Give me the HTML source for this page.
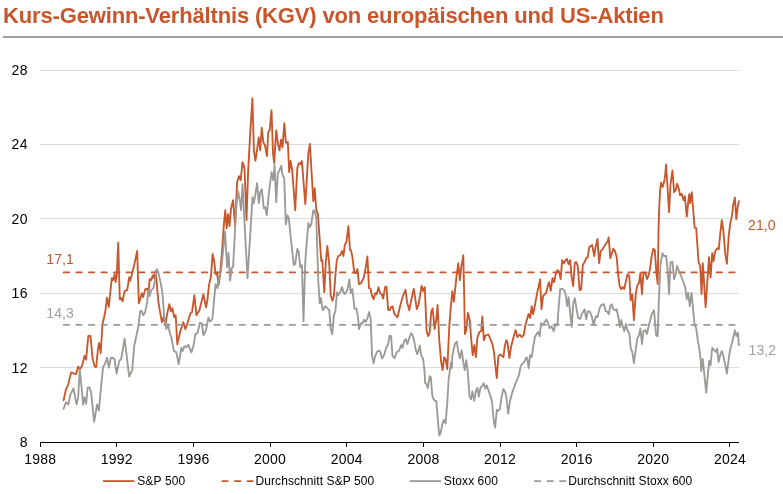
<!DOCTYPE html>
<html lang="de"><head><meta charset="utf-8"><title>Kurs-Gewinn-Verhältnis (KGV)</title>
<style>
html,body{margin:0;padding:0;background:#fff;}
body{width:783px;height:494px;overflow:hidden;position:relative;font-family:"Liberation Sans",Arial,sans-serif;}
h1{position:absolute;left:3px;top:2.7px;margin:0;font-size:22px;line-height:26px;font-weight:bold;color:#c8552b;white-space:nowrap;letter-spacing:-0.155px;}
.rule{position:absolute;left:3px;top:36px;width:780px;height:2px;background:#a0a0a0;}
svg{position:absolute;left:0;top:0;}
svg text{font-family:"Liberation Sans",Arial,sans-serif;}
</style></head><body>
<h1>Kurs-Gewinn-Verhältnis (KGV) von europäischen und US-Aktien</h1>
<div class="rule"></div>
<svg width="783" height="494" viewBox="0 0 783 494">

<g stroke="#dcdcdc" stroke-width="1" shape-rendering="crispEdges">
<line x1="40" y1="367.5" x2="739" y2="367.5"/>
<line x1="40" y1="293.5" x2="739" y2="293.5"/>
<line x1="40" y1="218.5" x2="739" y2="218.5"/>
<line x1="40" y1="144.5" x2="739" y2="144.5"/>
<line x1="40" y1="70.5" x2="739" y2="70.5"/>
</g>
<g font-size="14" fill="#000" text-anchor="end" letter-spacing="0.5">
<text x="28" y="447.0">8</text>
<text x="28" y="372.6">12</text>
<text x="28" y="298.2">16</text>
<text x="28" y="223.8">20</text>
<text x="28" y="149.4">24</text>
<text x="28" y="75.0">28</text>
</g>
<path d="M63.6,400.2 L66.0,389.1 L68.0,385.1 L71.1,372.5 L74.1,373.7 L76.1,374.1 L78.1,366.7 L80.1,369.1 L82.1,365.7 L84.5,355.6 L86.1,359.7 L88.3,336.0 L90.5,336.0 L92.5,358.0 L94.5,366.1 L96.1,367.1 L98.1,348.0 L99.1,343.0 L100.7,353.0 L102.5,324.2 L104.1,317.2 L105.5,310.2 L107.1,297.7 L108.8,306.8 L110.2,293.5 L111.8,278.1 L113.2,280.1 L114.6,274.1 L115.6,282.1 L116.8,275.1 L118.2,242.6 L119.8,299.2 L121.2,298.1 L122.6,301.2 L124.6,291.1 L127.2,290.1 L129.2,277.1 L130.2,280.7 L132.2,273.1 L134.2,265.1 L137.2,251.0 L138.8,303.2 L140.2,299.2 L141.8,293.1 L143.2,297.1 L145.2,289.1 L147.3,288.7 L148.3,295.1 L149.7,279.1 L151.3,280.1 L152.9,275.1 L154.3,278.1 L155.7,271.1 L158.3,301.2 L159.9,311.2 L161.9,322.2 L163.9,316.2 L165.3,325.2 L167.3,313.2 L169.3,304.2 L170.9,311.2 L172.3,308.2 L174.3,317.2 L175.7,315.2 L177.3,344.4 L180.3,331.2 L183.3,322.2 L185.4,329.2 L187.4,323.2 L190.4,313.2 L192.0,312.2 L194.4,295.1 L196.4,315.2 L199.4,310.2 L203.4,294.1 L206.0,307.2 L207.4,300.2 L209.0,285.1 L211.0,276.1 L212.6,254.0 L214.0,260.0 L215.6,274.1 L217.0,272.7 L218.6,285.1 L220.1,274.1 L221.7,255.0 L224.1,222.2 L225.3,210.2 L226.7,228.2 L228.1,214.2 L229.5,226.2 L231.1,208.2 L233.1,200.2 L235.1,226.2 L237.1,182.1 L239.1,176.1 L240.7,180.1 L242.5,162.1 L244.5,168.1 L246.5,220.2 L248.1,172.1 L250.1,135.2 L252.4,98.3 L253.9,150.3 L255.4,160.8 L257.4,147.3 L258.7,137.5 L260.2,150.3 L261.7,127.7 L263.4,142.7 L264.9,145.0 L267.0,156.0 L268.2,132.2 L269.7,129.9 L271.5,110.3 L273.0,153.3 L274.2,163.1 L276.2,130.4 L278.0,144.2 L279.5,150.3 L281.0,139.7 L282.5,147.3 L284.3,123.2 L285.9,142.7 L287.8,142.0 L289.2,172.1 L290.6,161.0 L292.2,170.1 L295.2,210.2 L297.3,168.1 L298.9,163.1 L300.3,164.1 L301.9,161.0 L305.3,204.2 L308.3,154.0 L309.9,144.0 L313.3,201.2 L314.7,188.1 L316.3,210.2 L317.9,214.2 L321.3,261.1 L322.3,260.0 L324.3,292.1 L325.7,263.1 L327.3,246.0 L329.3,265.1 L330.7,295.1 L332.3,300.8 L333.9,296.1 L335.4,275.1 L336.8,260.0 L338.4,256.0 L340.4,255.0 L342.0,251.0 L343.4,256.0 L344.8,245.0 L346.4,242.0 L348.4,226.2 L350.0,250.0 L351.0,250.1 L352.4,257.1 L354.4,273.1 L356.0,273.1 L357.4,269.1 L359.0,284.2 L361.0,283.2 L363.6,278.2 L365.6,268.1 L367.4,256.5 L369.0,288.2 L370.5,288.6 L372.1,296.2 L373.7,299.2 L375.1,293.2 L376.7,294.2 L378.5,287.2 L380.1,293.2 L381.7,294.2 L383.1,298.6 L385.1,287.2 L386.5,286.6 L388.1,309.8 L389.7,310.2 L391.1,307.2 L392.5,306.2 L394.5,314.2 L397.5,317.3 L400.1,306.2 L402.5,297.2 L405.5,289.8 L407.1,302.2 L409.2,310.2 L411.2,300.2 L413.8,288.8 L416.8,309.2 L418.6,304.2 L421.6,285.8 L423.2,291.2 L424.8,287.2 L426.6,331.1 L428.2,336.1 L429.6,333.1 L431.2,312.0 L432.6,308.4 L434.6,329.1 L436.2,320.1 L437.6,305.0 L439.2,340.1 L441.2,362.2 L442.6,370.2 L444.2,357.1 L445.6,359.2 L447.3,369.2 L449.3,326.1 L450.9,306.0 L452.3,291.2 L453.9,301.8 L456.3,278.2 L458.3,263.1 L459.9,280.2 L461.3,267.1 L463.3,255.1 L464.3,300.2 L464.9,334.1 L466.3,330.1 L467.9,313.0 L469.7,320.1 L471.3,340.1 L472.7,355.1 L474.3,345.1 L475.9,357.1 L477.3,338.1 L479.3,332.1 L481.3,331.1 L482.3,316.4 L483.9,340.1 L485.4,335.7 L488.4,334.5 L490.4,339.1 L492.4,344.1 L494.0,352.1 L495.4,366.2 L496.8,378.2 L498.4,356.1 L500.4,354.5 L502.0,356.1 L503.4,357.1 L504.8,346.1 L506.4,340.1 L507.6,343.1 L509.4,358.1 L511.0,347.1 L513.0,339.1 L515.6,330.1 L517.4,337.1 L519.7,334.5 L521.7,337.1 L523.7,335.1 L525.7,324.0 L527.1,319.0 L528.5,314.0 L530.1,318.0 L531.7,306.2 L533.1,314.2 L535.1,304.2 L537.1,293.2 L538.5,287.2 L540.1,279.5 L541.5,309.2 L543.1,296.2 L544.5,294.2 L546.1,293.2 L547.7,286.2 L549.1,282.1 L550.7,290.8 L552.5,278.1 L554.1,282.1 L555.7,274.1 L557.5,270.1 L559.2,272.1 L560.6,279.1 L562.2,260.1 L563.8,263.1 L565.2,261.1 L566.8,258.7 L568.6,264.1 L570.2,260.1 L571.6,277.1 L573.2,286.2 L574.8,263.1 L576.2,262.1 L577.8,266.1 L579.6,290.2 L581.2,289.2 L582.8,265.1 L584.6,262.1 L586.2,258.1 L587.8,257.1 L589.2,247.1 L590.8,246.1 L592.2,245.1 L594.2,256.1 L595.6,247.1 L597.5,239.0 L599.1,263.1 L600.7,251.1 L602.3,249.5 L603.9,247.1 L605.7,244.0 L607.3,242.0 L608.7,237.4 L610.3,258.1 L611.7,254.1 L613.3,248.7 L614.9,251.1 L616.7,257.1 L618.3,276.1 L619.7,286.2 L621.3,289.2 L622.9,287.2 L624.3,288.8 L625.9,281.1 L627.7,274.1 L629.3,276.1 L630.7,300.2 L632.3,294.2 L633.9,320.2 L635.8,293.2 L637.4,285.2 L639.0,283.2 L640.4,273.1 L642.0,294.2 L643.4,273.1 L645.4,273.1 L647.0,279.1 L648.4,276.1 L650.0,269.1 L651.8,255.1 L653.4,248.7 L654.8,250.1 L656.5,274.2 L657.7,284.0 L658.5,232.1 L659.1,210.2 L660.1,190.2 L661.1,182.5 L662.5,187.1 L664.1,182.1 L665.1,175.1 L666.1,164.5 L667.7,190.2 L669.1,212.2 L670.5,184.1 L672.5,170.5 L674.1,192.2 L675.7,190.2 L677.1,183.7 L678.7,188.2 L680.1,195.2 L681.7,193.8 L683.5,200.2 L684.8,196.2 L686.8,216.6 L688.2,202.2 L689.2,194.2 L690.2,203.2 L691.8,192.2 L693.2,210.2 L694.6,227.3 L696.2,228.1 L697.6,248.2 L698.6,262.2 L700.2,266.2 L701.6,294.0 L702.8,263.2 L705.6,307.1 L709.0,257.2 L710.6,277.5 L711.2,268.2 L712.2,253.2 L713.6,261.2 L715.2,251.2 L717.2,248.2 L718.8,249.2 L720.2,234.1 L721.8,220.1 L723.3,230.1 L725.3,254.2 L726.9,263.8 L728.7,236.1 L730.3,223.1 L731.9,216.1 L733.3,204.1 L734.9,197.6 L736.3,219.1 L737.7,207.1 L738.9,201.1" fill="none" stroke="#c8572d" stroke-width="1.85" stroke-linejoin="round" stroke-linecap="round"/>
<line x1="63.7" y1="272.4" x2="736" y2="272.4" stroke="#c8572d" stroke-width="1.8" stroke-linecap="round" stroke-dasharray="5.5 7.055"/>
<path d="M63.6,408.8 L66.0,402.2 L68.4,404.6 L70.1,395.1 L73.5,388.5 L76.5,404.2 L78.1,398.2 L79.7,369.7 L81.3,384.1 L83.1,404.6 L84.5,397.1 L86.1,403.8 L87.7,387.7 L89.5,387.3 L91.1,392.1 L94.1,421.8 L97.1,404.6 L98.9,410.6 L101.1,386.1 L103.1,367.1 L105.1,363.7 L107.1,357.6 L108.8,367.7 L110.8,358.0 L112.6,357.6 L114.6,359.5 L116.6,373.7 L119.2,361.1 L121.2,359.0 L124.6,338.7 L129.2,376.7 L132.2,370.1 L134.2,346.0 L138.2,327.2 L140.2,311.2 L141.6,310.8 L143.2,315.2 L145.2,312.2 L147.3,301.2 L148.3,290.1 L149.7,296.1 L151.3,290.1 L153.3,288.1 L154.7,282.1 L156.7,269.1 L158.3,272.1 L160.3,281.1 L162.3,292.1 L164.3,317.2 L166.3,329.2 L167.9,324.2 L169.9,333.2 L171.3,337.3 L173.9,351.0 L176.3,352.4 L178.7,364.1 L181.3,348.0 L182.7,351.0 L184.3,346.4 L186.4,347.0 L188.4,345.0 L191.4,352.4 L193.4,346.0 L195.4,334.2 L197.4,333.2 L200.0,322.8 L201.8,323.2 L203.4,335.2 L206.0,330.2 L208.4,317.6 L210.0,321.6 L212.4,319.2 L214.0,301.2 L215.6,284.1 L217.6,288.1 L219.0,277.1 L221.1,271.1 L222.5,257.0 L225.1,231.8 L227.1,267.1 L228.5,253.0 L230.1,280.7 L231.7,268.1 L233.1,267.1 L236.1,208.2 L238.1,191.1 L240.1,202.2 L241.1,210.2 L242.5,184.1 L244.5,222.2 L247.5,278.1 L250.5,230.2 L252.5,197.1 L253.7,203.2 L255.1,196.1 L257.1,183.1 L258.8,203.2 L260.2,192.1 L261.8,189.1 L263.8,208.2 L265.2,207.2 L266.8,215.2 L269.2,190.1 L271.6,172.1 L273.2,180.1 L274.6,165.1 L276.2,202.2 L277.8,173.1 L279.2,171.1 L281.2,165.7 L282.6,175.1 L284.2,178.1 L285.8,224.2 L287.6,215.2 L288.8,218.2 L290.6,236.2 L293.8,265.1 L295.2,264.1 L297.3,249.0 L298.7,252.0 L300.3,267.1 L301.9,265.1 L303.5,321.2 L305.3,261.1 L308.3,223.2 L309.9,227.2 L311.3,224.2 L313.3,210.2 L314.7,211.2 L316.3,218.2 L318.3,281.1 L319.7,303.2 L320.9,298.1 L322.7,310.2 L325.3,306.2 L328.3,309.2 L329.3,310.2 L330.7,329.2 L332.3,334.2 L333.9,315.2 L335.4,311.2 L337.0,292.1 L338.4,295.1 L340.0,292.7 L342.0,287.1 L343.4,292.1 L344.8,294.1 L347.4,290.1 L349.4,279.5 L350.8,293.1 L352.4,289.1 L354.4,308.2 L355.0,309.0 L356.4,308.4 L358.0,317.0 L359.0,329.1 L361.0,323.1 L362.4,323.7 L364.0,319.7 L365.6,322.1 L367.4,318.4 L369.0,312.0 L370.7,319.0 L372.1,356.1 L373.7,363.2 L375.1,356.1 L377.1,351.7 L379.1,350.5 L380.5,352.5 L382.1,358.6 L384.1,355.1 L386.1,348.1 L388.1,344.1 L389.7,335.7 L391.1,336.1 L392.5,356.1 L394.5,358.2 L396.5,352.5 L399.1,350.5 L401.1,345.1 L402.5,347.7 L404.1,341.1 L405.7,339.1 L407.5,344.1 L409.2,338.1 L411.2,333.1 L412.6,335.1 L414.2,341.1 L415.6,349.1 L417.2,354.1 L418.6,350.1 L419.8,345.7 L421.2,355.1 L423.2,359.2 L424.6,372.2 L425.2,383.2 L426.8,384.2 L427.8,388.2 L429.6,376.2 L430.8,377.2 L432.2,394.2 L433.1,398.4 L434.9,400.8 L436.3,400.8 L437.9,420.8 L439.3,435.5 L440.8,432.4 L442.4,423.5 L443.8,419.9 L445.6,423.5 L447.4,401.1 L448.6,379.7 L450.1,368.9 L451.0,362.7 L451.9,368.0 L452.3,356.1 L453.9,348.1 L455.3,343.1 L456.9,341.7 L458.3,352.1 L459.9,358.2 L461.7,350.1 L463.3,362.2 L464.7,370.2 L466.3,360.2 L467.9,373.2 L469.4,395.8 L471.0,399.3 L472.4,391.3 L474.2,400.8 L476.0,390.4 L477.4,387.7 L478.8,396.7 L480.5,387.7 L482.2,385.9 L483.7,383.2 L485.3,388.6 L486.7,385.4 L488.5,390.4 L490.3,395.8 L492.1,402.0 L493.5,419.0 L495.1,427.6 L496.9,409.7 L498.3,411.0 L499.8,409.2 L501.4,398.4 L503.2,389.1 L505.0,391.3 L506.4,397.5 L508.2,413.6 L510.0,401.1 L512.3,392.2 L515.3,384.1 L518.9,375.2 L520.7,366.3 L522.5,363.6 L524.6,361.8 L525.7,358.1 L527.1,357.7 L528.7,368.2 L530.1,355.1 L531.7,357.1 L533.5,345.1 L535.1,336.5 L536.5,334.1 L538.1,332.1 L539.7,336.1 L541.1,323.0 L542.5,325.0 L544.1,323.0 L546.5,319.6 L548.1,323.0 L549.7,328.0 L551.5,326.4 L553.7,331.1 L555.7,324.0 L557.5,325.0 L558.2,313.2 L560.2,289.2 L562.2,288.8 L564.2,290.2 L565.6,294.2 L567.2,306.2 L568.6,297.2 L570.2,313.2 L571.8,327.0 L573.2,303.2 L574.8,298.2 L576.6,309.2 L578.2,318.2 L580.2,318.8 L582.2,313.2 L584.6,309.2 L586.2,319.2 L587.8,311.2 L589.8,311.6 L591.8,316.2 L593.6,325.0 L595.8,316.2 L597.3,317.2 L599.3,309.2 L601.3,304.8 L603.9,304.2 L605.7,311.2 L607.3,311.6 L608.7,314.2 L610.3,306.2 L611.7,304.2 L613.3,309.2 L615.3,310.2 L616.7,309.2 L618.3,317.2 L619.9,327.0 L621.3,320.0 L622.7,326.0 L624.3,331.1 L625.9,324.0 L627.7,331.1 L629.3,333.1 L630.7,348.1 L632.3,352.1 L633.9,363.1 L635.8,349.1 L637.4,338.1 L639.0,335.1 L640.4,328.4 L642.0,344.1 L643.4,331.1 L645.4,330.1 L647.0,334.1 L648.4,327.0 L650.0,321.0 L651.8,314.0 L654.0,310.2 L656.1,335.1 L657.7,336.1 L658.7,303.1 L660.5,264.2 L662.5,253.2 L664.1,256.2 L666.1,255.8 L667.5,268.2 L669.1,294.0 L670.5,262.2 L672.5,261.8 L674.1,279.1 L675.7,274.2 L677.1,265.8 L678.5,270.2 L680.5,274.2 L685.2,287.0 L686.8,299.1 L688.2,292.6 L689.8,306.1 L691.6,293.0 L693.2,311.1 L694.6,324.7 L696.2,328.1 L697.6,339.2 L699.2,348.2 L700.6,359.2 L701.2,371.2 L702.8,359.0 L704.2,373.1 L706.2,392.7 L707.8,375.1 L709.2,361.0 L710.6,365.1 L712.2,348.0 L714.2,350.0 L715.8,352.0 L717.2,348.6 L718.6,362.0 L720.2,355.0 L721.8,351.0 L723.3,356.0 L725.3,365.1 L726.9,373.5 L728.7,359.0 L730.3,349.0 L731.9,343.2 L733.3,337.2 L734.9,330.1 L736.3,336.1 L737.9,332.7 L738.9,345.2" fill="none" stroke="#9b9a97" stroke-width="1.85" stroke-linejoin="round" stroke-linecap="round"/>
<line x1="63.7" y1="324.8" x2="736" y2="324.8" stroke="#9b9a97" stroke-width="1.8" stroke-linecap="round" stroke-dasharray="5.5 7.055"/>
<g stroke="#000" stroke-width="1" shape-rendering="crispEdges">
<line x1="40" y1="442.5" x2="739" y2="442.5"/>
<line x1="40.5" y1="442" x2="40.5" y2="447"/>
<line x1="116.5" y1="442" x2="116.5" y2="447"/>
<line x1="193.5" y1="442" x2="193.5" y2="447"/>
<line x1="270.5" y1="442" x2="270.5" y2="447"/>
<line x1="346.5" y1="442" x2="346.5" y2="447"/>
<line x1="423.5" y1="442" x2="423.5" y2="447"/>
<line x1="500.5" y1="442" x2="500.5" y2="447"/>
<line x1="576.5" y1="442" x2="576.5" y2="447"/>
<line x1="653.5" y1="442" x2="653.5" y2="447"/>
<line x1="729.5" y1="442" x2="729.5" y2="447"/>
</g>
<g font-size="14" fill="#000" text-anchor="middle" letter-spacing="0.2">
<text x="40.2" y="464">1988</text>
<text x="116.8" y="464">1992</text>
<text x="193.5" y="464">1996</text>
<text x="270.1" y="464">2000</text>
<text x="346.8" y="464">2004</text>
<text x="423.4" y="464">2008</text>
<text x="500.0" y="464">2012</text>
<text x="576.7" y="464">2016</text>
<text x="653.3" y="464">2020</text>
<text x="730.0" y="464">2024</text>
</g>
<g font-size="14" letter-spacing="0.1"><text x="46.3" y="264.3" fill="#c8572d">17,1</text><text x="46.3" y="318.2" fill="#a0a0a0">14,3</text>
<text x="748" y="230.3" fill="#c8572d">21,0</text><text x="748.5" y="355.3" fill="#a0a0a0">13,2</text></g>
<g font-size="12" fill="#000" letter-spacing="0.08" transform="translate(0,-0.4)">
<line x1="103" y1="481.5" x2="134.5" y2="481.5" stroke="#c8572d" stroke-width="1.8"/><text x="137.2" y="485.8" letter-spacing="0.15">S&amp;P 500</text>
<line x1="222.3" y1="481.5" x2="254" y2="481.5" stroke="#c8572d" stroke-width="1.8" stroke-linecap="round" stroke-dasharray="5.5 7.055"/><text x="255.5" y="485.8">Durchschnitt S&amp;P 500</text>
<line x1="409.7" y1="481.5" x2="441" y2="481.5" stroke="#9b9a97" stroke-width="1.8"/><text x="443.8" y="485.8">Stoxx 600</text>
<line x1="534.9" y1="481.5" x2="566" y2="481.5" stroke="#9b9a97" stroke-width="1.8" stroke-linecap="round" stroke-dasharray="5.5 7.055"/><text x="568.2" y="485.8" letter-spacing="0.03">Durchschnitt Stoxx 600</text>
</g>
</svg></body></html>
